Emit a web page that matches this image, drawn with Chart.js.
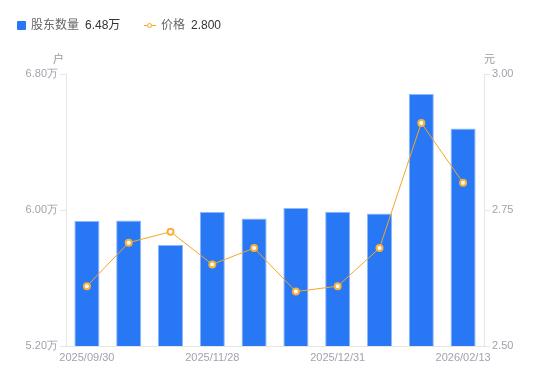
<!DOCTYPE html>
<html><head><meta charset="utf-8">
<script src="https://cdn.jsdelivr.net/npm/chart.js@4"></script>
<style>
html,body{margin:0;padding:0;background:#fff;}
#wrap{position:relative;width:550px;height:381px;font-family:"Liberation Sans","Noto Sans CJK SC",sans-serif;}
canvas{position:absolute;left:0;top:0;}
.lg{position:absolute;top:17px;font-size:12px;color:#666;white-space:nowrap;line-height:16px;}
.lg b{font-weight:normal;color:#333;margin-left:6px;}
.ax{position:absolute;top:50px;font-size:11px;color:#999;}
</style></head><body>
<div id="wrap">
<canvas id="c" width="550" height="381"></canvas>
<div class="lg" style="left:17px;"><span style="display:inline-block;width:9px;height:9px;background:#2878F5;border-radius:1px;margin-right:5px;vertical-align:-1px;"></span>股东数量<b>6.48万</b></div>
<div class="lg" style="left:144px;"><span style="display:inline-block;position:relative;width:12px;height:9px;margin-right:5px;vertical-align:-1px;"><span style="position:absolute;left:0;top:4px;width:12px;height:1px;background:#F5A623;"></span><span style="position:absolute;left:3px;top:1.5px;width:3px;height:3px;border:1.5px solid #F5A623;border-radius:50%;background:#fff;"></span></span>价格<b>2.800</b></div>
<div class="ax" style="left:53px;">户</div>
<div class="ax" style="left:484px;">元</div>
</div>
<script>
const categories = ["2025/09/30","2025/10/20","2025/10/31","2025/11/28","2025/12/10","2025/12/20","2025/12/31","2026/01/20","2026/01/30","2026/02/13"];
const holders = [5.935, 5.938, 5.794, 5.988, 5.95, 6.012, 5.99, 5.98, 6.682, 6.48];
const prices = [2.61, 2.69, 2.71, 2.65, 2.68, 2.60, 2.61, 2.68, 2.91, 2.80];
const leftTicks = [5.2, 6.0, 6.8];
const rightTicks = [2.5, 2.75, 3.0];
const shownLabelIdx = [0, 3, 6, 9];

const tickColor = '#a0a3ad';
const lineCol = '#e6e6e6';
new Chart(document.getElementById('c'), {
  data: {
    labels: categories,
    datasets: [
      {type:'line', data: prices, yAxisID:'y1', order:0,
       borderColor:'#F5A623', borderWidth:1, pointRadius:3, pointBorderWidth:2,
       pointBackgroundColor:'#fff', pointBorderColor:'#F5B13A', tension:0},
      {type:'bar', data: holders, yAxisID:'y', order:1,
       backgroundColor:'#2878F5', borderColor:'#8DB8FA', borderWidth:{top:1,left:1,right:1,bottom:0},
       categoryPercentage:0.6, barPercentage:1.0}
    ]
  },
  options: {
    responsive:false, animation:false,
    layout:{padding:{top:74,left:0,right:0,bottom:0}},
    plugins:{legend:{display:false}, tooltip:{enabled:false}},
    scales:{
      x:{
        grid:{display:false,tickLength:0},
        border:{display:true,color:lineCol},
        ticks:{autoSkip:false,maxRotation:0,color:tickColor,font:{size:11},padding:5,
          callback:(v,i)=> shownLabelIdx.includes(i) ? categories[i] : ''},
        afterFit:s=>{s.height=35;}
      },
      y:{
        position:'left', min:5.2, max:6.8,
        afterBuildTicks:s=>{s.ticks=leftTicks.map(v=>({value:v}));},
        grid:{drawOnChartArea:false,tickLength:6,color:lineCol},
        border:{color:lineCol},
        ticks:{color:tickColor,font:{size:11},padding:2,callback:v=>v.toFixed(2)+'万'},
        afterFit:s=>{s.width=66;}
      },
      y1:{
        position:'right', min:2.5, max:3.0,
        afterBuildTicks:s=>{s.ticks=rightTicks.map(v=>({value:v}));},
        grid:{drawOnChartArea:false,tickLength:6,color:lineCol},
        border:{color:lineCol},
        ticks:{color:tickColor,font:{size:11},padding:2,callback:v=>v.toFixed(2)},
        afterFit:s=>{s.width=66;}
      }
    }
  }
});
</script>
</body></html>
